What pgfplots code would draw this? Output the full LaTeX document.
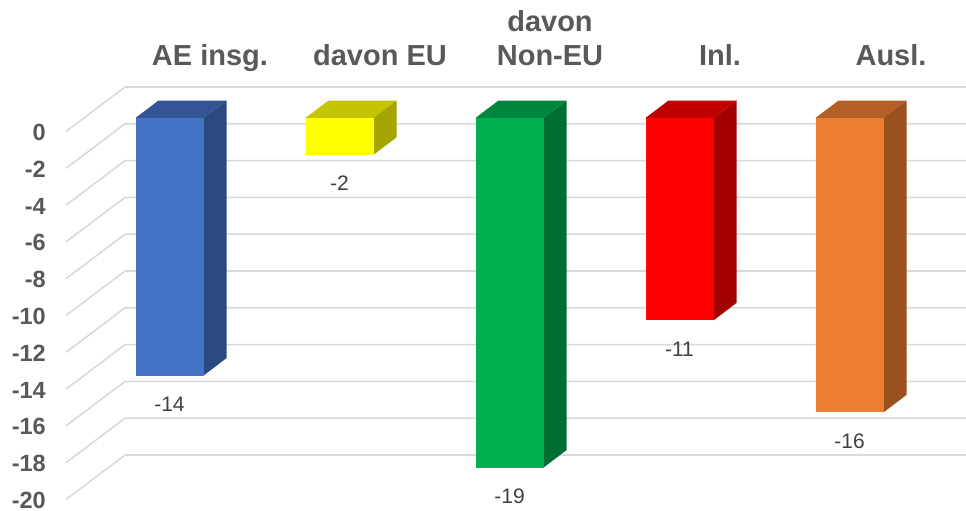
\documentclass[border=0pt]{standalone}
\usepackage{fontspec}
\setmainfont{Liberation Sans}
\usepackage{pgfplots}
\pgfplotsset{compat=1.18}

\definecolor{gridc}{HTML}{D9D9D9}
\definecolor{txt}{HTML}{595959}
\definecolor{lab}{HTML}{404040}
\definecolor{blueF}{HTML}{4472C4}
\definecolor{blueT}{HTML}{345594}
\definecolor{blueS}{HTML}{2A4A80}
\definecolor{yelF}{HTML}{FFFF00}
\definecolor{yelT}{HTML}{C4C400}
\definecolor{yelS}{HTML}{A5A500}
\definecolor{greenF}{HTML}{00B050}
\definecolor{greenT}{HTML}{00873D}
\definecolor{greenS}{HTML}{006E33}
\definecolor{redF}{HTML}{FF0000}
\definecolor{redT}{HTML}{C00000}
\definecolor{redS}{HTML}{A50000}
\definecolor{orF}{HTML}{ED7D31}
\definecolor{orT}{HTML}{B45F25}
\definecolor{orS}{HTML}{9A5120}

% x is in pixels of the picture, y in chart units (18.4 px per unit)
\pgfplotsset{page/.style={
    scale only axis, width=966pt, height=511pt,
    xmin=0, xmax=966, clip=false,
    axis line style={draw=none}, major tick length=0pt,
}}

\begin{document}
\begin{tikzpicture}[x=1pt,y=1pt]
\useasboundingbox (0,0) rectangle (966,511);

% back wall and the axis labels; 0 of the wall is 87 px from the top
\begin{axis}[page,
    ymin=-23.043, ymax=4.728,
    xtick={210,380,550,720,891},
    xticklabels={AE insg.,davon EU,davon\\Non-EU,Inl.,Ausl.},
    xticklabel pos=upper,
    xticklabel style={font=\fontsize{29}{34.5}\selectfont\bfseries, text=txt, align=center,
        anchor=south, inner sep=0pt, text depth=0pt, yshift=-66pt},
    ytick={0,-2,-4,-6,-8,-10,-12,-14,-16,-18,-20},
    yticklabels={0,-2,-4,-6,-8,-10,-12,-14,-16,-18,-20},
    yticklabel style={font=\fontsize{23.5}{28}\selectfont\bfseries, text=txt,
        anchor=east, inner sep=0pt, xshift=46pt, yshift=-45.5pt},
]
\addplot[gridc, line width=1.6pt] coordinates {(66,-2.42) (125,0) (966,0)};
\addplot[gridc, line width=1.6pt] coordinates {(66,-4.42) (125,-2) (966,-2)};
\addplot[gridc, line width=1.6pt] coordinates {(66,-6.42) (125,-4) (966,-4)};
\addplot[gridc, line width=1.6pt] coordinates {(66,-8.42) (125,-6) (966,-6)};
\addplot[gridc, line width=1.6pt] coordinates {(66,-10.42) (125,-8) (966,-8)};
\addplot[gridc, line width=1.6pt] coordinates {(66,-12.42) (125,-10) (966,-10)};
\addplot[gridc, line width=1.6pt] coordinates {(66,-14.42) (125,-12) (966,-12)};
\addplot[gridc, line width=1.6pt] coordinates {(66,-16.42) (125,-14) (966,-14)};
\addplot[gridc, line width=1.6pt] coordinates {(66,-18.42) (125,-16) (966,-16)};
\addplot[gridc, line width=1.6pt] coordinates {(66,-20.42) (125,-18) (966,-18)};
\addplot[gridc, line width=1.6pt] coordinates {(66,-22.42) (125,-20) (966,-20)};
\end{axis}

% bars; 0 of the bar front is 118 px from the top, depth is 23 px right, 0.95 units up
\begin{axis}[page,
    ymin=-21.359, ymax=6.413,
    xtick=\empty, ytick=\empty,
    bar width=68pt,
    point meta=explicit symbolic,
]
% AE insg.
\addplot[fill=blueT, draw=none] coordinates {(135.5,0) (158.5,0.95) (226.5,0.95) (203.5,0)} -- cycle;
\addplot[fill=blueS, draw=none] coordinates {(203.5,0) (226.5,0.95) (226.5,-13.05) (203.5,-14)} -- cycle;
\addplot[ybar, fill=blueF, draw=none, nodes near coords,
    every node near coord/.append style={font=\fontsize{21}{25}\selectfont, text=lab, anchor=center, yshift=-28.5pt}]
    coordinates {(169.5,-14) [-14]};
% davon EU
\addplot[fill=yelT, draw=none] coordinates {(305.5,0) (328.5,0.95) (396.5,0.95) (373.5,0)} -- cycle;
\addplot[fill=yelS, draw=none] coordinates {(373.5,0) (396.5,0.95) (396.5,-1.05) (373.5,-2)} -- cycle;
\addplot[ybar, fill=yelF, draw=none, nodes near coords,
    every node near coord/.append style={font=\fontsize{21}{25}\selectfont, text=lab, anchor=center, yshift=-28.5pt}]
    coordinates {(339.5,-2) [-2]};
% davon Non-EU
\addplot[fill=greenT, draw=none] coordinates {(475.5,0) (498.5,0.95) (566.5,0.95) (543.5,0)} -- cycle;
\addplot[fill=greenS, draw=none] coordinates {(543.5,0) (566.5,0.95) (566.5,-18.05) (543.5,-19)} -- cycle;
\addplot[ybar, fill=greenF, draw=none, nodes near coords,
    every node near coord/.append style={font=\fontsize{21}{25}\selectfont, text=lab, anchor=center, yshift=-28.5pt}]
    coordinates {(509.5,-19) [-19]};
% Inl.
\addplot[fill=redT, draw=none] coordinates {(645.5,0) (668.5,0.95) (736.5,0.95) (713.5,0)} -- cycle;
\addplot[fill=redS, draw=none] coordinates {(713.5,0) (736.5,0.95) (736.5,-10.05) (713.5,-11)} -- cycle;
\addplot[ybar, fill=redF, draw=none, nodes near coords,
    every node near coord/.append style={font=\fontsize{21}{25}\selectfont, text=lab, anchor=center, yshift=-28.5pt}]
    coordinates {(679.5,-11) [-11]};
% Ausl.
\addplot[fill=orT, draw=none] coordinates {(815.5,0) (838.5,0.95) (906.5,0.95) (883.5,0)} -- cycle;
\addplot[fill=orS, draw=none] coordinates {(883.5,0) (906.5,0.95) (906.5,-15.05) (883.5,-16)} -- cycle;
\addplot[ybar, fill=orF, draw=none, nodes near coords,
    every node near coord/.append style={font=\fontsize{21}{25}\selectfont, text=lab, anchor=center, yshift=-28.5pt}]
    coordinates {(849.5,-16) [-16]};
\end{axis}
\end{tikzpicture}
\end{document}
